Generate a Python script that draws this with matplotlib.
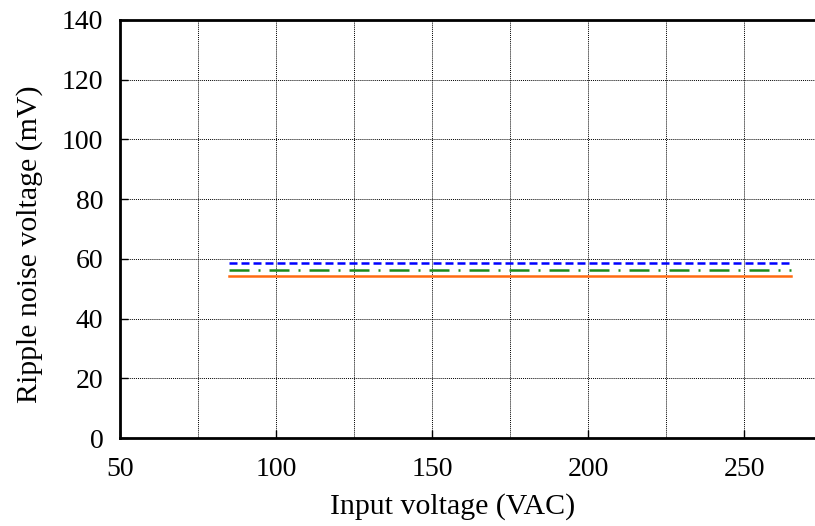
import numpy as np
import matplotlib.pyplot as plt
from matplotlib.ticker import MultipleLocator

plt.rcParams.update({
    "font.family": ["Liberation Serif", "DejaVu Serif"],
    "font.size": 20,
})

# ripple noise vs input voltage, three output conditions
vin = [85, 265]
ripple_a = [58.5, 58.5]
ripple_b = [56.2, 56.2]
ripple_c = [54.2, 54.2]

fig = plt.figure(figsize=(8.15, 5.26), dpi=100)
ax = fig.add_axes([0.1472, 0.1673, 0.8614, 0.7947])

ax.plot(vin, ripple_a, color="#0000ff", lw=1.8, dashes=(3.2, 1.6))
ax.plot(vin, ripple_b, color="#1a8a1a", lw=1.8, dashes=(8, 3.6, 0.8, 3.6))
ax.plot(vin, ripple_c, color="#ff6a10", lw=1.8)

ax.set_xlim(50, 275)
ax.set_ylim(0, 140)
ax.xaxis.set_major_locator(MultipleLocator(50))
ax.xaxis.set_minor_locator(MultipleLocator(25))
ax.yaxis.set_major_locator(MultipleLocator(20))

ax.grid(True, which="both", axis="x", color="black", ls=(0, (1, 1)), lw=0.7)
ax.grid(True, which="major", axis="y", color="black", ls=(0, (1, 1)), lw=0.7)
ax.tick_params(which="major", direction="in", length=6, width=1)
ax.tick_params(which="minor", length=0)
ax.tick_params(axis="x", pad=14)
ax.tick_params(axis="y", pad=12)
ax.set_axisbelow(True)

for s in ax.spines.values():
    s.set_linewidth(2)
ax.spines["right"].set_visible(False)

ax.set_xlabel("Input voltage (VAC)", fontsize=21.5)
ax.set_ylabel("Ripple noise voltage (mV)", fontsize=21.5)
ax.xaxis.set_label_coords(0.474, -0.132)
ax.yaxis.set_label_coords(-0.110, 0.464)

fig.savefig("out.png", dpi=100)
